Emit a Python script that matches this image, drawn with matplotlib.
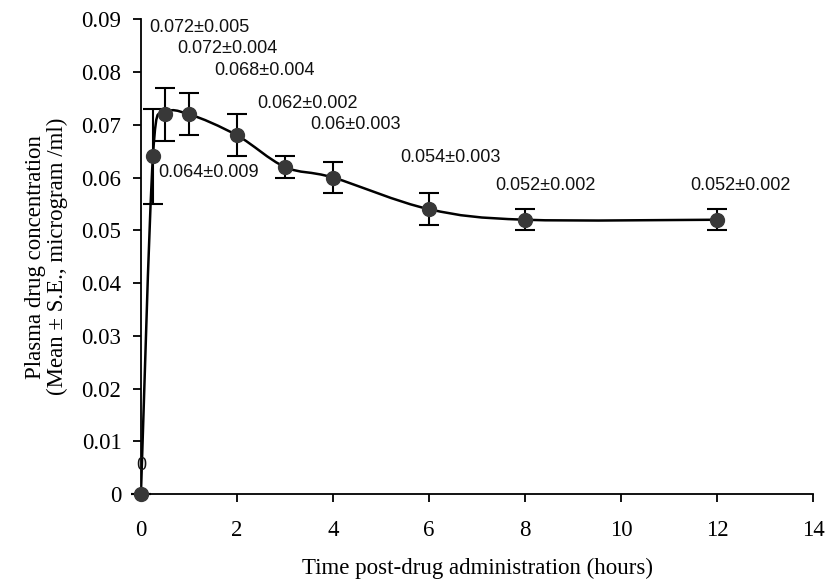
import numpy as np
import matplotlib.pyplot as plt
from matplotlib.path import Path
from matplotlib.patches import PathPatch

# donnees
temps = [0, 0.25, 0.5, 1, 2, 3, 4, 6, 8, 12]
conc = [0, 0.064, 0.072, 0.072, 0.068, 0.062, 0.06, 0.054, 0.052, 0.052]
erreur = [0, 0.009, 0.005, 0.004, 0.004, 0.002, 0.003, 0.003, 0.002, 0.002]

etiquettes = ['0', '0.064±0.009', '0.072±0.005', '0.072±0.004', '0.068±0.004',
              '0.062±0.002', '0.06±0.003', '0.054±0.003', '0.052±0.002', '0.052±0.002']
pos_etiquettes = [(0, 0.0055), (1.40, 0.0610), (1.21, 0.0884), (1.80, 0.0845),
                  (2.58, 0.0803), (3.46, 0.0741), (4.47, 0.0701), (6.45, 0.0638),
                  (8.43, 0.0585), (12.49, 0.0585)]

couleur = '#383838'

# courbe lissee facon excel (bezier type catmull-rom)
def courbe_lisse(x, y):
    pts = np.column_stack([x, y])
    n = len(pts)
    verts = [pts[0]]
    codes = [Path.MOVETO]
    for i in range(n - 1):
        p0 = pts[i - 1] if i > 0 else pts[i]
        p1 = pts[i]
        p2 = pts[i + 1]
        p3 = pts[i + 2] if i + 2 < n else pts[i + 1]
        c1 = p1 + (p2 - p0) / 6
        c2 = p2 - (p3 - p1) / 6
        verts += [c1, c2, p2]
        codes += [Path.CURVE4] * 3
    return Path(verts, codes)

fig = plt.figure(figsize=(8.29, 5.84), dpi=100)
ax = fig.add_axes([0.170, 0.154, 0.811, 0.813])

ax.add_patch(PathPatch(courbe_lisse(temps, conc), fill=False, color='black', lw=1.8, zorder=2))
ax.errorbar(temps, conc, yerr=erreur, fmt='o', color=couleur, ecolor='black',
            markersize=10, capsize=7, elinewidth=1.5, capthick=1.5, zorder=3,
            clip_on=False)

for txt, (px, py) in zip(etiquettes, pos_etiquettes):
    ax.text(px, py, txt, ha='center', va='center', fontsize=13,
            family='Liberation Sans', color='#111111')

ax.set_xlim(0, 14)
ax.set_ylim(0, 0.09)
ax.set_xticks(np.arange(0, 15, 2))
ax.set_yticks(np.arange(0, 0.091, 0.01))
ax.set_yticklabels(['0'] + ['%.2f' % v for v in np.arange(0.01, 0.091, 0.01)])
for s in ['top', 'right']:
    ax.spines[s].set_visible(False)
for s in ['left', 'bottom']:
    ax.spines[s].set_linewidth(1.3)
ax.tick_params(direction='out', length=6, width=1.3, labelsize=16.5)
ax.tick_params(axis='x', pad=13)
ax.tick_params(axis='y', pad=8)
for lab in ax.get_xticklabels() + ax.get_yticklabels():
    lab.set_family('Liberation Serif')

ax.set_xlabel('Time post-drug administration (hours)', family='Liberation Serif',
              fontsize=16.5, labelpad=12)
ax.set_ylabel('Plasma drug concentration\n(Mean ± S.E., microgram /ml)',
              family='Liberation Serif', fontsize=16.5, labelpad=10, linespacing=1.05)

fig.savefig('out.png', dpi=100)
